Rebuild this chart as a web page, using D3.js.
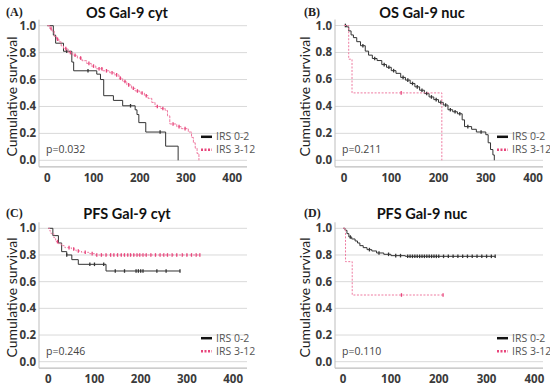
<!DOCTYPE html>
<html>
<head>
<meta charset="utf-8">
<script src="https://cdn.jsdelivr.net/npm/d3@7"></script>
<style>
  body { margin: 0; background: #fff; }
  svg { display: block; }
</style>
</head>
<body>
<svg width="550" height="387"></svg>
<script>
// ---- data ----
var xTicks = [0, 100, 200, 300, 400];
var yTicks = [0, 0.2, 0.4, 0.6, 0.8, 1.0];
var groups = ["IRS 0-2", "IRS 3-12"];
var titles = ["OS Gal-9 cyt", "OS Gal-9 nuc", "PFS Gal-9 cyt", "PFS Gal-9 nuc"];
var letters = ["(A)", "(B)", "(C)", "(D)"];
var pvalues = ["p=0.032", "p=0.211", "p=0.246", "p=0.110"];

// event steps: [time, survival after the event]
var osCytLow = [[13,0.93],[18,0.87],[35,0.81],[53,0.73],[57,0.665],[107,0.64],[115,0.60],[122,0.48],
  [143,0.445],[163,0.405],[190,0.375],[194,0.34],[198,0.28],[213,0.21],[256,0.105],[283,0]];
var osCytLowCens = [42, 88, 180, 244];
var osCytHigh = [[5,0.98],[10,0.96],[15,0.92],[20,0.90],[25,0.88],[30,0.85],[35,0.83],[45,0.80],
  [55,0.78],[65,0.76],[75,0.74],[85,0.72],[95,0.70],[105,0.68],[120,0.665],[135,0.65],[145,0.635],
  [155,0.61],[163,0.585],[172,0.56],[182,0.535],[190,0.515],[200,0.50],[210,0.48],[218,0.46],
  [226,0.43],[233,0.40],[245,0.385],[255,0.37],[260,0.33],[265,0.27],[280,0.25],[290,0.235],
  [305,0.21],[312,0.17],[316,0.13],[320,0.09],[324,0.05],[328,0]];
var osCytHighCens = [8, 22, 40, 50, 60, 72, 90, 100, 112, 118, 128, 140, 150, 158, 168, 176, 186,
  195, 205, 214, 238, 250, 272, 285, 298];

var osNucLow = [[5,0.99],[10,0.96],[15,0.93],[20,0.91],[27,0.88],[35,0.85],[45,0.81],[52,0.78],
  [60,0.755],[70,0.74],[80,0.71],[90,0.69],[100,0.665],[110,0.645],[120,0.615],[130,0.595],
  [140,0.57],[150,0.545],[160,0.52],[170,0.495],[180,0.47],[190,0.45],[200,0.43],[210,0.41],
  [220,0.375],[230,0.36],[240,0.345],[250,0.30],[255,0.25],[270,0.23],[280,0.21],[300,0.19],
  [305,0.13],[310,0.08],[315,0.04],[318,0]];
var osNucLowCens = [3, 40, 65, 85, 95, 105, 125, 135, 145, 155, 165, 175, 185, 195, 205, 215, 225,
  235, 245, 262, 290];
var osNucHigh = [[10,0.75],[17,0.5],[207,0]];
var osNucHighCens = [121];

var pfsCytLow = [[10,0.945],[22,0.89],[29,0.825],[40,0.80],[51,0.765],[65,0.73],[125,0.68]];
var pfsCytLowCens = [40, 90, 100, 120, 145, 165, 190, 195, 200, 205, 235, 255, 285];
var pfsCytHigh = [[3,0.98],[6,0.96],[12,0.93],[16,0.90],[22,0.885],[28,0.87],[36,0.855],[50,0.845],
  [60,0.83],[72,0.82],[88,0.81],[100,0.80]];
var pfsCytHighCens = [20, 45, 55, 65, 80, 95, 105, 115, 125, 135, 142, 150, 158, 165, 172, 178, 185,
  192, 198, 205, 212, 222, 232, 242, 250, 258, 268, 278, 290, 300, 310, 320, 328];

var pfsNucLow = [[4,0.985],[8,0.96],[12,0.935],[18,0.92],[25,0.905],[30,0.89],[35,0.87],[42,0.855],
  [50,0.84],[60,0.83],[70,0.815],[85,0.805],[100,0.795],[130,0.79]];
var pfsNucLowCens = [15, 55, 75, 95, 110, 120, 135, 140, 145, 150, 155, 160, 165, 170, 175, 180, 185,
  190, 195, 200, 210, 220, 230, 240, 250, 260, 270, 280, 290, 300, 310, 318];
var pfsNucHigh = [[5,0.75],[19,0.5]];
var pfsNucHighCens = [122, 209];

// last follow-up per curve
var lastTime = [[283, 328], [318, 207], [285, 328], [318, 209]];

var curves = [
  [[osCytLow, osCytLowCens], [osCytHigh, osCytHighCens]],
  [[osNucLow, osNucLowCens], [osNucHigh, osNucHighCens]],
  [[pfsCytLow, pfsCytLowCens], [pfsCytHigh, pfsCytHighCens]],
  [[pfsNucLow, pfsNucLowCens], [pfsNucHigh, pfsNucHighCens]]
];

// ---- layout ----
var layout = [
  {x0: 39,  x1: 247, dom: [-18, 432], yb: 160.3, yt: 25.7,  ox: 0,   oy: 0},
  {x0: 335, x1: 543, dom: [-19, 421], yb: 160.3, yt: 25.5,  ox: 296, oy: 0},
  {x0: 39,  x1: 247, dom: [-20, 430], yb: 361.7, yt: 228.3, ox: 0,   oy: 201},
  {x0: 335, x1: 543, dom: [-17, 418], yb: 361.7, yt: 228.3, ox: 296, oy: 201}
];
var colors = ["#333333", "#e8467c"];

var svg = d3.select("svg");

layout.forEach(function(L, k) {
  var g = svg.append("g");
  var x = d3.scaleLinear().domain(L.dom).range([L.x0, L.x1]);
  var y = d3.scaleLinear().domain([0, 1]).range([L.yb, L.yt]);
  var axisY = L.yb + 6.5;

  // gridlines
  g.selectAll(".grid").data(yTicks).enter().append("line")
    .attr("x1", L.x0).attr("x2", L.x1)
    .attr("y1", function(d){ return y(d); }).attr("y2", function(d){ return y(d); })
    .attr("stroke", "#d9d9d9").attr("stroke-width", 1);

  // axis lines
  g.append("line").attr("x1", L.x0).attr("x2", L.x0).attr("y1", L.yt - 6).attr("y2", axisY)
    .attr("stroke", "#bdbdbd");
  g.append("line").attr("x1", L.x0).attr("x2", L.x1).attr("y1", axisY).attr("y2", axisY)
    .attr("stroke", "#bdbdbd").attr("stroke-width", 1.2);

  // tick labels
  g.selectAll(".yl").data(yTicks).enter().append("text")
    .attr("x", L.x0 - 3).attr("y", function(d){ return y(d) + 4; })
    .attr("text-anchor", "end")
    .style("font", "bold 11.5px 'Open Sans', sans-serif").style("fill", "#3a3a3a")
    .text(function(d){ return d3.format(".1f")(d); });
  g.selectAll(".xl").data(xTicks).enter().append("text")
    .attr("x", function(d){ return x(d); }).attr("y", axisY + 15)
    .attr("text-anchor", "middle")
    .style("font", "bold 11.5px 'Open Sans', sans-serif").style("fill", "#3a3a3a")
    .text(function(d){ return d; });

  // titles
  g.append("text").attr("x", 127 + L.ox - (k % 2) * 1).attr("y", 18 + L.oy)
    .attr("text-anchor", "middle")
    .style("font", "bold 14.5px Lato, sans-serif").style("fill", "#111")
    .text(titles[k]);
  g.append("text").attr("x", 6 + L.ox + (k % 2) * 2).attr("y", 16 + L.oy)
    .style("font", "bold 12px 'Liberation Serif', serif").style("fill", "#222")
    .text(letters[k]);
  g.append("text")
    .attr("transform", "translate(" + (17 + L.ox - (k % 2) * 3) + "," + (96.5 + L.oy) + ") rotate(-90)")
    .attr("text-anchor", "middle")
    .style("font", "14px Lato, sans-serif").style("fill", "#222")
    .text("Cumulative survival");

  // p value
  g.append("text").attr("x", L.x0 + 7).attr("y", y(0) - 7)
    .style("font", "10.5px 'Open Sans', sans-serif").style("fill", "#444")
    .text(pvalues[k]);

  // legend
  groups.forEach(function(name, j) {
    var ly = y(0) - 23.5 + j * 13;
    var lx = L.x1 - 46;
    g.append("line").attr("x1", lx).attr("x2", lx + 11).attr("y1", ly).attr("y2", ly)
      .attr("stroke", j ? colors[1] : "#111").attr("stroke-width", 2.5)
      .attr("stroke-dasharray", j ? "2,1.5" : null);
    g.append("text").attr("x", lx + 15).attr("y", ly + 3.5)
      .style("font", "10.5px 'Open Sans', sans-serif").style("fill", "#555")
      .text(name);
  });

  // curves
  var line = d3.line().x(function(d){ return x(d[0]); }).y(function(d){ return y(d[1]); })
    .curve(d3.curveStepAfter);
  [0, 1].forEach(function(j) {
    var ev = curves[k][j][0], cens = curves[k][j][1];
    var last = ev.length ? ev[ev.length - 1][1] : 1;
    var pts = [[0, 1]].concat(ev);
    if (lastTime[k][j] > ev[ev.length - 1][0]) pts.push([lastTime[k][j], last]);
    g.append("path").attr("d", line(pts)).attr("fill", "none")
      .attr("stroke", j ? "#ee7aa0" : colors[0]).attr("stroke-width", 1)
      .attr("stroke-dasharray", j ? (k === 0 ? "3,1" : "2,1.5") : null);
    var survAt = function(t) {
      var s = 1;
      ev.forEach(function(e){ if (e[0] <= t) s = e[1]; });
      return s;
    };
    g.selectAll(".c" + j).data(cens).enter().append("line")
      .attr("x1", function(d){ return x(d); }).attr("x2", function(d){ return x(d); })
      .attr("y1", function(d){ return y(survAt(d)) - 1.8; })
      .attr("y2", function(d){ return y(survAt(d)) + 1.8; })
      .attr("stroke", colors[j]).attr("stroke-width", 1.3);
  });
});
</script>
</body>
</html>
